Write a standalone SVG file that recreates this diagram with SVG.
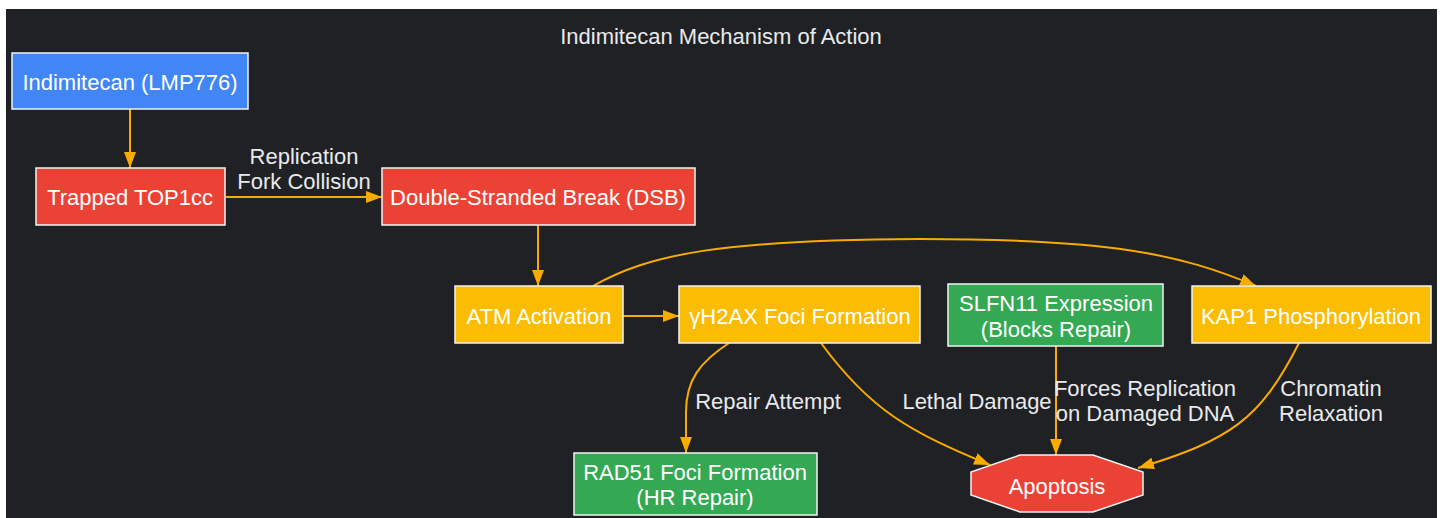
<svg xmlns="http://www.w3.org/2000/svg" width="1445" height="518" viewBox="0 0 1445 518">
<defs>
<style>
.bg{fill:#202124}
.node rect,.node polygon{stroke:#f1f3f4;stroke-width:1.5}
.blue{fill:#4285F4}.red{fill:#EA4335}.yellow{fill:#FBBC04}.green{fill:#34A853}
text{font-family:"Liberation Sans",Arial,sans-serif;font-size:22px;fill:#ffffff;text-anchor:middle;dominant-baseline:central}
.lbl{fill:#e8eaed}
.title{fill:#e8eaed}
.edge{fill:none;stroke:#F9AB00;stroke-width:2}
</style>
<marker id="ah" viewBox="0 0 16 12" refX="16" refY="6" markerWidth="16" markerHeight="12" markerUnits="userSpaceOnUse" orient="auto">
<path d="M0,0 L16,6 L0,12 Z" fill="#F9AB00"/>
</marker>
</defs>
<rect x="0" y="0" width="1445" height="518" fill="#ffffff"/>
<rect class="bg" x="6" y="9" width="1431" height="509"/>
<text class="title" x="721" y="36">Indimitecan Mechanism of Action</text>
<g id="connectors">
<path class="edge" marker-end="url(#ah)" d="M130,109 L130,168"/>
<path class="edge" marker-end="url(#ah)" d="M225,197 L382,197"/>
<path class="edge" marker-end="url(#ah)" d="M538,225 L538,286"/>
<path class="edge" marker-end="url(#ah)" d="M623,316 L679,316"/>
<path class="edge" marker-end="url(#ah)" d="M593,286 C650,254 720,240 920,239 C1110,239 1180,254 1256,286"/>
<path class="edge" marker-end="url(#ah)" d="M729,343 C700,362 686,380 686,412 L686,453"/>
<path class="edge" marker-end="url(#ah)" d="M821,343 C870,410 910,432 990,465"/>
<path class="edge" marker-end="url(#ah)" d="M1056,346 L1056,455"/>
<path class="edge" marker-end="url(#ah)" d="M1299,343 C1260,420 1230,440 1138,468"/>
<text class="lbl" x="304" y="156">Replication</text>
<text class="lbl" x="304" y="181">Fork Collision</text>
<text class="lbl" x="768" y="401">Repair Attempt</text>
<text class="lbl" x="977" y="401">Lethal Damage</text>
<text class="lbl" x="1145" y="388">Forces Replication</text>
<text class="lbl" x="1145" y="413">on Damaged DNA</text>
<text class="lbl" x="1331" y="388">Chromatin</text>
<text class="lbl" x="1331" y="413">Relaxation</text>
</g>
<g id="indimitecan" class="node"><rect class="blue" x="12" y="53" width="236" height="56"/><text x="130" y="82">Indimitecan (LMP776)</text></g>
<g id="top1cc" class="node"><rect class="red" x="36" y="168" width="189" height="57"/><text x="130" y="197">Trapped TOP1cc</text></g>
<g id="dsb" class="node"><rect class="red" x="382" y="168" width="313" height="57"/><text x="538" y="197">Double-Stranded Break (DSB)</text></g>
<g id="atm" class="node"><rect class="yellow" x="455" y="286" width="168" height="57"/><text x="539" y="316">ATM Activation</text></g>
<g id="h2ax" class="node"><rect class="yellow" x="679" y="286" width="241" height="57"/><text x="800" y="316">γH2AX Foci Formation</text></g>
<g id="slfn11" class="node"><rect class="green" x="948" y="284" width="215" height="62"/><text x="1056" y="303">SLFN11 Expression</text><text x="1056" y="329">(Blocks Repair)</text></g>
<g id="kap1" class="node"><rect class="yellow" x="1192" y="286" width="239" height="57"/><text x="1311" y="316">KAP1 Phosphorylation</text></g>
<g id="rad51" class="node"><rect class="green" x="574" y="453" width="243" height="62"/><text x="695" y="472">RAD51 Foci Formation</text><text x="695" y="497">(HR Repair)</text></g>
<g id="apoptosis" class="node"><polygon class="red" points="1020,455 1093,455 1143,472 1143,495 1093,512 1020,512 971,495 971,472"/><text x="1057" y="486">Apoptosis</text></g>
</svg>
